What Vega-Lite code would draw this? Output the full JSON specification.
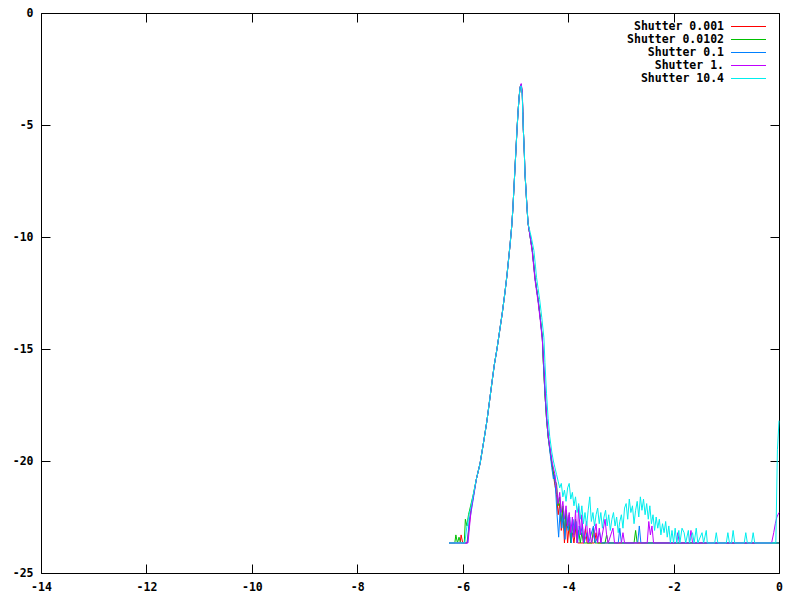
{
  "$schema": "https://vega.github.io/schema/vega-lite/v6.json",
  "autosize": "none",
  "width": 738,
  "height": 560,
  "padding": {"left": 41, "top": 13, "right": 21, "bottom": 27},
  "background": "white",
  "config": {
    "view": {"stroke": "black", "strokeWidth": 1},
    "axis": {
      "domain": false,
      "grid": false,
      "ticks": true,
      "tickColor": "black",
      "tickSize": -9,
      "labelFont": "DejaVu Sans Mono",
      "labelFontWeight": "bold",
      "labelFontSize": 11.5,
      "labelColor": "black",
      "title": null
    }
  },
  "data": {
    "values": [
      {"s":"0.001","x":-6.26,"y":-23.66},{"s":"0.001","x":-6.05,"y":-23.66},{"s":"0.001","x":-6.03,"y":-23.3},{"s":"0.001","x":-6.0,"y":-23.66},{"s":"0.001","x":-5.92,"y":-23.66},{"s":"0.001","x":-5.88,"y":-23.0},{"s":"0.001","x":-5.85,"y":-22.2},{"s":"0.001","x":-5.8,"y":-21.6},
      {"s":"0.001","x":-5.74,"y":-20.8},{"s":"0.001","x":-5.67,"y":-20.1},{"s":"0.001","x":-5.6,"y":-19.1},{"s":"0.001","x":-5.54,"y":-18.2},{"s":"0.001","x":-5.49,"y":-17.3},{"s":"0.001","x":-5.44,"y":-16.4},{"s":"0.001","x":-5.4,"y":-15.7},{"s":"0.001","x":-5.35,"y":-15.0},{"s":"0.001","x":-5.3,"y":-14.2},{"s":"0.001","x":-5.25,"y":-13.4},{"s":"0.001","x":-5.2,"y":-12.5},{"s":"0.001","x":-5.16,"y":-11.7},{"s":"0.001","x":-5.13,"y":-11.0},{"s":"0.001","x":-5.1,"y":-10.3},{"s":"0.001","x":-5.07,"y":-9.5},{"s":"0.001","x":-5.05,"y":-8.8},{"s":"0.001","x":-5.03,"y":-7.9},{"s":"0.001","x":-5.01,"y":-7.0},{"s":"0.001","x":-4.99,"y":-6.1},{"s":"0.001","x":-4.97,"y":-5.2},{"s":"0.001","x":-4.95,"y":-4.4},{"s":"0.001","x":-4.93,"y":-3.75},{"s":"0.001","x":-4.91,"y":-3.3},{"s":"0.001","x":-4.89,"y":-3.2},{"s":"0.001","x":-4.87,"y":-3.6},{"s":"0.001","x":-4.86,"y":-4.4},{"s":"0.001","x":-4.85,"y":-5.2},{"s":"0.001","x":-4.83,"y":-6.3},{"s":"0.001","x":-4.82,"y":-7.1},{"s":"0.001","x":-4.8,"y":-7.9},{"s":"0.001","x":-4.78,"y":-8.7},{"s":"0.001","x":-4.76,"y":-9.4},
      {"s":"0.001","x":-4.72,"y":-10.0},{"s":"0.001","x":-4.68,"y":-10.6},{"s":"0.001","x":-4.65,"y":-11.3},{"s":"0.001","x":-4.63,"y":-11.8},{"s":"0.001","x":-4.6,"y":-12.3},{"s":"0.001","x":-4.57,"y":-12.8},{"s":"0.001","x":-4.53,"y":-13.6},{"s":"0.001","x":-4.49,"y":-14.5},{"s":"0.001","x":-4.47,"y":-15.6},{"s":"0.001","x":-4.44,"y":-17.0},{"s":"0.001","x":-4.41,"y":-18.1},{"s":"0.001","x":-4.38,"y":-18.9},{"s":"0.001","x":-4.34,"y":-19.6},{"s":"0.001","x":-4.31,"y":-20.1},{"s":"0.001","x":-4.28,"y":-20.6},
      {"s":"0.001","x":-4.25,"y":-21.1},{"s":"0.001","x":-4.22,"y":-21.5},{"s":"0.001","x":-4.19,"y":-22.4},{"s":"0.001","x":-4.16,"y":-21.9},{"s":"0.001","x":-4.13,"y":-23.1},{"s":"0.001","x":-4.1,"y":-22.2},{"s":"0.001","x":-4.07,"y":-23.66},{"s":"0.001","x":-4.04,"y":-22.5},{"s":"0.001","x":-4.01,"y":-23.66},{"s":"0.001","x":-3.98,"y":-22.8},{"s":"0.001","x":-3.95,"y":-23.66},{"s":"0.001","x":-3.92,"y":-23.2},{"s":"0.001","x":-3.89,"y":-23.66},{"s":"0.001","x":-3.85,"y":-22.9},{"s":"0.001","x":-3.82,"y":-23.66},{"s":"0.001","x":-3.7,"y":-23.66},{"s":"0.001","x":-3.67,"y":-23.0},{"s":"0.001","x":-3.64,"y":-23.66},{"s":"0.001","x":-3.5,"y":-23.66},{"s":"0.001","x":-3.47,"y":-23.2},{"s":"0.001","x":-3.44,"y":-23.66},{"s":"0.001","x":0,"y":-23.66},

      {"s":"0.0102","x":-6.26,"y":-23.66},{"s":"0.0102","x":-6.15,"y":-23.66},{"s":"0.0102","x":-6.13,"y":-23.3},{"s":"0.0102","x":-6.1,"y":-23.66},{"s":"0.0102","x":-6.07,"y":-23.4},{"s":"0.0102","x":-6.04,"y":-23.66},{"s":"0.0102","x":-5.97,"y":-23.66},{"s":"0.0102","x":-5.95,"y":-22.6},{"s":"0.0102","x":-5.92,"y":-22.9},{"s":"0.0102","x":-5.89,"y":-22.4},{"s":"0.0102","x":-5.85,"y":-22.0},{"s":"0.0102","x":-5.8,"y":-21.5},
      {"s":"0.0102","x":-5.74,"y":-20.8},{"s":"0.0102","x":-5.67,"y":-20.1},{"s":"0.0102","x":-5.6,"y":-19.1},{"s":"0.0102","x":-5.54,"y":-18.2},{"s":"0.0102","x":-5.49,"y":-17.3},{"s":"0.0102","x":-5.44,"y":-16.4},{"s":"0.0102","x":-5.4,"y":-15.7},{"s":"0.0102","x":-5.35,"y":-15.0},{"s":"0.0102","x":-5.3,"y":-14.2},{"s":"0.0102","x":-5.25,"y":-13.4},{"s":"0.0102","x":-5.2,"y":-12.5},{"s":"0.0102","x":-5.16,"y":-11.7},{"s":"0.0102","x":-5.13,"y":-11.0},{"s":"0.0102","x":-5.1,"y":-10.3},{"s":"0.0102","x":-5.07,"y":-9.5},{"s":"0.0102","x":-5.05,"y":-8.8},{"s":"0.0102","x":-5.03,"y":-7.9},{"s":"0.0102","x":-5.01,"y":-7.0},{"s":"0.0102","x":-4.99,"y":-6.1},{"s":"0.0102","x":-4.97,"y":-5.2},{"s":"0.0102","x":-4.95,"y":-4.4},{"s":"0.0102","x":-4.93,"y":-3.75},{"s":"0.0102","x":-4.91,"y":-3.3},{"s":"0.0102","x":-4.89,"y":-3.2},{"s":"0.0102","x":-4.87,"y":-3.6},{"s":"0.0102","x":-4.86,"y":-4.4},{"s":"0.0102","x":-4.85,"y":-5.2},{"s":"0.0102","x":-4.83,"y":-6.3},{"s":"0.0102","x":-4.82,"y":-7.1},{"s":"0.0102","x":-4.8,"y":-7.9},{"s":"0.0102","x":-4.78,"y":-8.7},{"s":"0.0102","x":-4.76,"y":-9.4},
      {"s":"0.0102","x":-4.72,"y":-10.0},{"s":"0.0102","x":-4.68,"y":-10.6},{"s":"0.0102","x":-4.65,"y":-11.3},{"s":"0.0102","x":-4.63,"y":-11.8},{"s":"0.0102","x":-4.6,"y":-12.3},{"s":"0.0102","x":-4.57,"y":-12.8},{"s":"0.0102","x":-4.53,"y":-13.6},{"s":"0.0102","x":-4.49,"y":-14.5},{"s":"0.0102","x":-4.47,"y":-15.6},{"s":"0.0102","x":-4.44,"y":-17.0},{"s":"0.0102","x":-4.41,"y":-18.1},{"s":"0.0102","x":-4.38,"y":-18.9},{"s":"0.0102","x":-4.34,"y":-19.6},{"s":"0.0102","x":-4.31,"y":-20.1},{"s":"0.0102","x":-4.28,"y":-20.5},
      {"s":"0.0102","x":-4.25,"y":-20.9},{"s":"0.0102","x":-4.22,"y":-21.0},{"s":"0.0102","x":-4.19,"y":-22.0},{"s":"0.0102","x":-4.16,"y":-21.6},{"s":"0.0102","x":-4.13,"y":-22.7},{"s":"0.0102","x":-4.1,"y":-22.0},{"s":"0.0102","x":-4.07,"y":-23.1},{"s":"0.0102","x":-4.04,"y":-22.2},{"s":"0.0102","x":-4.01,"y":-23.0},{"s":"0.0102","x":-3.98,"y":-22.4},{"s":"0.0102","x":-3.95,"y":-23.66},{"s":"0.0102","x":-3.92,"y":-22.9},{"s":"0.0102","x":-3.89,"y":-23.3},{"s":"0.0102","x":-3.86,"y":-22.6},{"s":"0.0102","x":-3.83,"y":-23.66},{"s":"0.0102","x":-3.8,"y":-23.1},{"s":"0.0102","x":-3.77,"y":-23.66},{"s":"0.0102","x":-3.74,"y":-23.2},{"s":"0.0102","x":-3.71,"y":-23.66},{"s":"0.0102","x":-3.55,"y":-23.66},{"s":"0.0102","x":-3.52,"y":-23.0},{"s":"0.0102","x":-3.49,"y":-23.66},{"s":"0.0102","x":-3.3,"y":-23.66},{"s":"0.0102","x":-3.27,"y":-23.3},{"s":"0.0102","x":-3.24,"y":-23.66},{"s":"0.0102","x":-2.75,"y":-23.66},{"s":"0.0102","x":-2.72,"y":-23.1},{"s":"0.0102","x":-2.69,"y":-23.66},{"s":"0.0102","x":0,"y":-23.66},

      {"s":"0.1","x":-6.26,"y":-23.66},{"s":"0.1","x":-5.91,"y":-23.66},{"s":"0.1","x":-5.88,"y":-22.7},{"s":"0.1","x":-5.85,"y":-22.4},{"s":"0.1","x":-5.8,"y":-21.7},
      {"s":"0.1","x":-5.74,"y":-20.8},{"s":"0.1","x":-5.67,"y":-20.1},{"s":"0.1","x":-5.6,"y":-19.1},{"s":"0.1","x":-5.54,"y":-18.2},{"s":"0.1","x":-5.49,"y":-17.3},{"s":"0.1","x":-5.44,"y":-16.4},{"s":"0.1","x":-5.4,"y":-15.7},{"s":"0.1","x":-5.35,"y":-15.0},{"s":"0.1","x":-5.3,"y":-14.2},{"s":"0.1","x":-5.25,"y":-13.4},{"s":"0.1","x":-5.2,"y":-12.5},{"s":"0.1","x":-5.16,"y":-11.7},{"s":"0.1","x":-5.13,"y":-11.0},{"s":"0.1","x":-5.1,"y":-10.3},{"s":"0.1","x":-5.07,"y":-9.5},{"s":"0.1","x":-5.05,"y":-8.8},{"s":"0.1","x":-5.03,"y":-7.9},{"s":"0.1","x":-5.01,"y":-7.0},{"s":"0.1","x":-4.99,"y":-6.1},{"s":"0.1","x":-4.97,"y":-5.2},{"s":"0.1","x":-4.95,"y":-4.4},{"s":"0.1","x":-4.93,"y":-3.75},{"s":"0.1","x":-4.91,"y":-3.3},{"s":"0.1","x":-4.89,"y":-3.2},{"s":"0.1","x":-4.87,"y":-3.6},{"s":"0.1","x":-4.86,"y":-4.4},{"s":"0.1","x":-4.85,"y":-5.2},{"s":"0.1","x":-4.83,"y":-6.3},{"s":"0.1","x":-4.82,"y":-7.1},{"s":"0.1","x":-4.8,"y":-7.9},{"s":"0.1","x":-4.78,"y":-8.7},{"s":"0.1","x":-4.76,"y":-9.4},
      {"s":"0.1","x":-4.72,"y":-10.0},{"s":"0.1","x":-4.68,"y":-10.6},{"s":"0.1","x":-4.65,"y":-11.3},{"s":"0.1","x":-4.63,"y":-11.8},{"s":"0.1","x":-4.6,"y":-12.3},{"s":"0.1","x":-4.57,"y":-12.8},{"s":"0.1","x":-4.53,"y":-13.6},{"s":"0.1","x":-4.49,"y":-14.5},{"s":"0.1","x":-4.47,"y":-15.6},{"s":"0.1","x":-4.44,"y":-17.0},{"s":"0.1","x":-4.41,"y":-18.1},{"s":"0.1","x":-4.38,"y":-18.9},{"s":"0.1","x":-4.34,"y":-19.7},{"s":"0.1","x":-4.31,"y":-20.3},{"s":"0.1","x":-4.28,"y":-20.8},
      {"s":"0.1","x":-4.26,"y":-20.6},{"s":"0.1","x":-4.24,"y":-21.2},{"s":"0.1","x":-4.21,"y":-22.4},{"s":"0.1","x":-4.18,"y":-23.4},{"s":"0.1","x":-4.15,"y":-22.1},{"s":"0.1","x":-4.12,"y":-23.0},{"s":"0.1","x":-4.09,"y":-22.3},{"s":"0.1","x":-4.06,"y":-23.5},{"s":"0.1","x":-4.03,"y":-22.4},{"s":"0.1","x":-4.0,"y":-23.1},{"s":"0.1","x":-3.97,"y":-22.5},{"s":"0.1","x":-3.94,"y":-23.66},{"s":"0.1","x":-3.91,"y":-22.6},{"s":"0.1","x":-3.88,"y":-23.2},{"s":"0.1","x":-3.85,"y":-22.7},{"s":"0.1","x":-3.82,"y":-23.66},{"s":"0.1","x":-3.79,"y":-22.9},{"s":"0.1","x":-3.76,"y":-23.3},{"s":"0.1","x":-3.73,"y":-22.8},{"s":"0.1","x":-3.7,"y":-23.66},{"s":"0.1","x":-3.64,"y":-23.2},{"s":"0.1","x":-3.61,"y":-23.66},{"s":"0.1","x":-3.52,"y":-22.9},{"s":"0.1","x":-3.49,"y":-23.66},{"s":"0.1","x":-3.4,"y":-23.2},{"s":"0.1","x":-3.37,"y":-23.66},{"s":"0.1","x":-3.05,"y":-23.66},{"s":"0.1","x":-3.02,"y":-23.0},{"s":"0.1","x":-2.99,"y":-23.66},{"s":"0.1","x":-2.68,"y":-23.66},{"s":"0.1","x":-2.65,"y":-22.9},{"s":"0.1","x":-2.62,"y":-23.66},{"s":"0.1","x":0,"y":-23.66},

      {"s":"1.","x":-6.26,"y":-23.66},{"s":"1.","x":-5.9,"y":-23.66},{"s":"1.","x":-5.87,"y":-22.9},{"s":"1.","x":-5.84,"y":-22.2},{"s":"1.","x":-5.8,"y":-21.6},
      {"s":"1.","x":-5.74,"y":-20.8},{"s":"1.","x":-5.67,"y":-20.1},{"s":"1.","x":-5.6,"y":-19.1},{"s":"1.","x":-5.54,"y":-18.2},{"s":"1.","x":-5.49,"y":-17.3},{"s":"1.","x":-5.44,"y":-16.4},{"s":"1.","x":-5.4,"y":-15.7},{"s":"1.","x":-5.35,"y":-15.0},{"s":"1.","x":-5.3,"y":-14.2},{"s":"1.","x":-5.25,"y":-13.4},{"s":"1.","x":-5.2,"y":-12.5},{"s":"1.","x":-5.16,"y":-11.7},{"s":"1.","x":-5.13,"y":-11.0},{"s":"1.","x":-5.1,"y":-10.3},{"s":"1.","x":-5.07,"y":-9.5},{"s":"1.","x":-5.05,"y":-8.8},{"s":"1.","x":-5.03,"y":-7.9},{"s":"1.","x":-5.01,"y":-7.0},{"s":"1.","x":-4.99,"y":-6.1},{"s":"1.","x":-4.97,"y":-5.2},{"s":"1.","x":-4.95,"y":-4.4},{"s":"1.","x":-4.93,"y":-3.75},{"s":"1.","x":-4.91,"y":-3.3},{"s":"1.","x":-4.89,"y":-3.15},{"s":"1.","x":-4.87,"y":-3.5},{"s":"1.","x":-4.86,"y":-4.3},{"s":"1.","x":-4.85,"y":-5.2},{"s":"1.","x":-4.83,"y":-6.3},{"s":"1.","x":-4.82,"y":-7.1},{"s":"1.","x":-4.8,"y":-7.9},{"s":"1.","x":-4.78,"y":-8.7},{"s":"1.","x":-4.76,"y":-9.4},
      {"s":"1.","x":-4.72,"y":-10.0},{"s":"1.","x":-4.68,"y":-10.7},{"s":"1.","x":-4.65,"y":-11.4},{"s":"1.","x":-4.63,"y":-11.9},{"s":"1.","x":-4.6,"y":-12.4},{"s":"1.","x":-4.57,"y":-12.9},{"s":"1.","x":-4.53,"y":-13.7},{"s":"1.","x":-4.49,"y":-14.6},{"s":"1.","x":-4.46,"y":-15.7},{"s":"1.","x":-4.43,"y":-17.1},{"s":"1.","x":-4.4,"y":-18.2},{"s":"1.","x":-4.37,"y":-19.0},{"s":"1.","x":-4.33,"y":-19.6},{"s":"1.","x":-4.3,"y":-20.1},{"s":"1.","x":-4.27,"y":-20.4},
      {"s":"1.","x":-4.25,"y":-20.6},{"s":"1.","x":-4.22,"y":-21.2},{"s":"1.","x":-4.19,"y":-21.9},{"s":"1.","x":-4.16,"y":-21.4},{"s":"1.","x":-4.13,"y":-22.3},{"s":"1.","x":-4.1,"y":-21.8},{"s":"1.","x":-4.07,"y":-22.6},{"s":"1.","x":-4.04,"y":-22.0},{"s":"1.","x":-4.01,"y":-22.9},{"s":"1.","x":-3.98,"y":-22.3},{"s":"1.","x":-3.95,"y":-23.2},{"s":"1.","x":-3.92,"y":-22.5},{"s":"1.","x":-3.89,"y":-23.4},{"s":"1.","x":-3.86,"y":-22.2},{"s":"1.","x":-3.83,"y":-23.66},{"s":"1.","x":-3.8,"y":-22.0},{"s":"1.","x":-3.77,"y":-23.3},{"s":"1.","x":-3.74,"y":-22.4},{"s":"1.","x":-3.71,"y":-23.66},{"s":"1.","x":-3.68,"y":-23.1},{"s":"1.","x":-3.65,"y":-22.7},{"s":"1.","x":-3.62,"y":-23.66},{"s":"1.","x":-3.59,"y":-23.0},{"s":"1.","x":-3.56,"y":-23.66},{"s":"1.","x":-3.5,"y":-23.2},{"s":"1.","x":-3.47,"y":-22.8},{"s":"1.","x":-3.44,"y":-23.66},{"s":"1.","x":-3.41,"y":-23.0},{"s":"1.","x":-3.38,"y":-23.66},{"s":"1.","x":-3.3,"y":-22.6},{"s":"1.","x":-3.27,"y":-23.3},{"s":"1.","x":-3.24,"y":-23.66},{"s":"1.","x":-3.15,"y":-23.0},{"s":"1.","x":-3.12,"y":-23.66},{"s":"1.","x":-2.99,"y":-23.66},{"s":"1.","x":-2.96,"y":-23.2},{"s":"1.","x":-2.93,"y":-23.66},{"s":"1.","x":-2.5,"y":-23.66},{"s":"1.","x":-2.47,"y":-22.7},{"s":"1.","x":-2.44,"y":-23.3},{"s":"1.","x":-2.41,"y":-22.9},{"s":"1.","x":-2.38,"y":-23.66},{"s":"1.","x":-1.95,"y":-23.66},{"s":"1.","x":-1.92,"y":-23.2},{"s":"1.","x":-1.89,"y":-23.66},{"s":"1.","x":-1.7,"y":-23.66},{"s":"1.","x":-1.67,"y":-23.1},{"s":"1.","x":-1.64,"y":-23.66},{"s":"1.","x":-0.14,"y":-23.66},{"s":"1.","x":-0.1,"y":-23.2},{"s":"1.","x":-0.07,"y":-22.8},{"s":"1.","x":-0.04,"y":-22.5},{"s":"1.","x":0,"y":-22.3},

      {"s":"10.4","x":-6.26,"y":-23.66},{"s":"10.4","x":-5.96,"y":-23.66},{"s":"10.4","x":-5.92,"y":-22.9},{"s":"10.4","x":-5.88,"y":-22.4},{"s":"10.4","x":-5.84,"y":-22.0},{"s":"10.4","x":-5.8,"y":-21.5},
      {"s":"10.4","x":-5.74,"y":-20.8},{"s":"10.4","x":-5.67,"y":-20.1},{"s":"10.4","x":-5.6,"y":-19.1},{"s":"10.4","x":-5.54,"y":-18.2},{"s":"10.4","x":-5.49,"y":-17.3},{"s":"10.4","x":-5.44,"y":-16.4},{"s":"10.4","x":-5.4,"y":-15.7},{"s":"10.4","x":-5.35,"y":-15.0},{"s":"10.4","x":-5.3,"y":-14.2},{"s":"10.4","x":-5.25,"y":-13.4},{"s":"10.4","x":-5.2,"y":-12.5},{"s":"10.4","x":-5.16,"y":-11.7},{"s":"10.4","x":-5.13,"y":-11.0},{"s":"10.4","x":-5.1,"y":-10.3},{"s":"10.4","x":-5.07,"y":-9.5},{"s":"10.4","x":-5.05,"y":-8.8},{"s":"10.4","x":-5.03,"y":-7.9},{"s":"10.4","x":-5.01,"y":-7.0},{"s":"10.4","x":-4.99,"y":-6.1},{"s":"10.4","x":-4.97,"y":-5.2},{"s":"10.4","x":-4.95,"y":-4.4},{"s":"10.4","x":-4.93,"y":-3.75},{"s":"10.4","x":-4.91,"y":-3.3},{"s":"10.4","x":-4.89,"y":-3.25},{"s":"10.4","x":-4.87,"y":-3.7},{"s":"10.4","x":-4.86,"y":-4.5},{"s":"10.4","x":-4.85,"y":-5.2},{"s":"10.4","x":-4.83,"y":-6.3},{"s":"10.4","x":-4.82,"y":-7.1},{"s":"10.4","x":-4.8,"y":-7.9},{"s":"10.4","x":-4.78,"y":-8.7},{"s":"10.4","x":-4.76,"y":-9.4},
      {"s":"10.4","x":-4.7,"y":-10.0},{"s":"10.4","x":-4.65,"y":-10.6},{"s":"10.4","x":-4.62,"y":-11.3},{"s":"10.4","x":-4.6,"y":-11.8},{"s":"10.4","x":-4.57,"y":-12.3},{"s":"10.4","x":-4.54,"y":-12.8},{"s":"10.4","x":-4.5,"y":-13.6},{"s":"10.4","x":-4.46,"y":-14.5},{"s":"10.4","x":-4.44,"y":-15.6},{"s":"10.4","x":-4.41,"y":-17.0},{"s":"10.4","x":-4.38,"y":-18.1},{"s":"10.4","x":-4.35,"y":-18.9},{"s":"10.4","x":-4.31,"y":-19.6},{"s":"10.4","x":-4.28,"y":-20.0},
      {"s":"10.4","x":-4.25,"y":-20.3},{"s":"10.4","x":-4.22,"y":-20.6},{"s":"10.4","x":-4.19,"y":-20.9},{"s":"10.4","x":-4.16,"y":-21.2},{"s":"10.4","x":-4.13,"y":-21.0},{"s":"10.4","x":-4.1,"y":-21.6},{"s":"10.4","x":-4.07,"y":-21.3},{"s":"10.4","x":-4.04,"y":-21.8},{"s":"10.4","x":-4.01,"y":-21.2},{"s":"10.4","x":-3.98,"y":-21.0},{"s":"10.4","x":-3.95,"y":-21.7},{"s":"10.4","x":-3.92,"y":-21.4},{"s":"10.4","x":-3.89,"y":-22.0},{"s":"10.4","x":-3.86,"y":-21.6},{"s":"10.4","x":-3.83,"y":-22.3},{"s":"10.4","x":-3.8,"y":-21.9},{"s":"10.4","x":-3.77,"y":-22.6},{"s":"10.4","x":-3.74,"y":-22.0},{"s":"10.4","x":-3.71,"y":-22.8},{"s":"10.4","x":-3.68,"y":-22.3},{"s":"10.4","x":-3.65,"y":-22.9},{"s":"10.4","x":-3.62,"y":-22.2},{"s":"10.4","x":-3.59,"y":-21.6},{"s":"10.4","x":-3.56,"y":-22.7},{"s":"10.4","x":-3.53,"y":-22.3},{"s":"10.4","x":-3.5,"y":-22.9},{"s":"10.4","x":-3.47,"y":-22.4},{"s":"10.4","x":-3.44,"y":-22.1},{"s":"10.4","x":-3.41,"y":-22.8},{"s":"10.4","x":-3.38,"y":-22.3},{"s":"10.4","x":-3.35,"y":-23.0},{"s":"10.4","x":-3.32,"y":-22.5},{"s":"10.4","x":-3.29,"y":-22.2},{"s":"10.4","x":-3.26,"y":-22.9},{"s":"10.4","x":-3.23,"y":-22.4},{"s":"10.4","x":-3.2,"y":-23.1},{"s":"10.4","x":-3.17,"y":-22.6},{"s":"10.4","x":-3.14,"y":-22.3},{"s":"10.4","x":-3.11,"y":-22.9},{"s":"10.4","x":-3.08,"y":-22.5},{"s":"10.4","x":-3.05,"y":-23.2},{"s":"10.4","x":-3.02,"y":-22.7},{"s":"10.4","x":-2.99,"y":-22.4},{"s":"10.4","x":-2.96,"y":-23.0},{"s":"10.4","x":-2.93,"y":-22.1},{"s":"10.4","x":-2.9,"y":-21.9},{"s":"10.4","x":-2.87,"y":-22.6},{"s":"10.4","x":-2.84,"y":-21.7},{"s":"10.4","x":-2.81,"y":-22.3},{"s":"10.4","x":-2.78,"y":-22.0},{"s":"10.4","x":-2.75,"y":-22.8},{"s":"10.4","x":-2.72,"y":-22.2},{"s":"10.4","x":-2.69,"y":-21.8},{"s":"10.4","x":-2.66,"y":-22.5},{"s":"10.4","x":-2.63,"y":-21.6},{"s":"10.4","x":-2.6,"y":-22.2},{"s":"10.4","x":-2.57,"y":-21.7},{"s":"10.4","x":-2.54,"y":-22.4},{"s":"10.4","x":-2.51,"y":-21.9},{"s":"10.4","x":-2.48,"y":-22.6},{"s":"10.4","x":-2.45,"y":-22.0},{"s":"10.4","x":-2.42,"y":-22.8},{"s":"10.4","x":-2.39,"y":-22.4},{"s":"10.4","x":-2.36,"y":-23.1},{"s":"10.4","x":-2.33,"y":-22.5},{"s":"10.4","x":-2.3,"y":-23.0},{"s":"10.4","x":-2.27,"y":-22.6},{"s":"10.4","x":-2.24,"y":-23.3},{"s":"10.4","x":-2.21,"y":-22.8},{"s":"10.4","x":-2.18,"y":-23.2},{"s":"10.4","x":-2.15,"y":-22.7},{"s":"10.4","x":-2.12,"y":-23.4},{"s":"10.4","x":-2.09,"y":-22.9},{"s":"10.4","x":-2.06,"y":-23.66},{"s":"10.4","x":-2.03,"y":-23.1},{"s":"10.4","x":-2.0,"y":-23.66},{"s":"10.4","x":-1.97,"y":-23.0},{"s":"10.4","x":-1.94,"y":-23.66},{"s":"10.4","x":-1.9,"y":-23.1},{"s":"10.4","x":-1.88,"y":-23.66},{"s":"10.4","x":-1.84,"y":-23.0},{"s":"10.4","x":-1.8,"y":-23.2},{"s":"10.4","x":-1.77,"y":-23.66},{"s":"10.4","x":-1.72,"y":-23.1},{"s":"10.4","x":-1.7,"y":-23.66},{"s":"10.4","x":-1.64,"y":-23.2},{"s":"10.4","x":-1.61,"y":-23.66},{"s":"10.4","x":-1.57,"y":-23.0},{"s":"10.4","x":-1.54,"y":-23.66},{"s":"10.4","x":-1.46,"y":-23.2},{"s":"10.4","x":-1.43,"y":-23.66},{"s":"10.4","x":-1.38,"y":-23.1},{"s":"10.4","x":-1.36,"y":-23.66},{"s":"10.4","x":-1.22,"y":-23.66},{"s":"10.4","x":-1.19,"y":-23.2},{"s":"10.4","x":-1.16,"y":-23.66},{"s":"10.4","x":-1.0,"y":-23.66},{"s":"10.4","x":-0.97,"y":-23.2},{"s":"10.4","x":-0.94,"y":-23.66},{"s":"10.4","x":-0.9,"y":-23.66},{"s":"10.4","x":-0.87,"y":-23.1},{"s":"10.4","x":-0.84,"y":-23.66},{"s":"10.4","x":-0.66,"y":-23.66},{"s":"10.4","x":-0.63,"y":-23.2},{"s":"10.4","x":-0.6,"y":-23.66},{"s":"10.4","x":-0.52,"y":-23.66},{"s":"10.4","x":-0.49,"y":-23.2},{"s":"10.4","x":-0.46,"y":-23.66},{"s":"10.4","x":-0.06,"y":-23.66},{"s":"10.4","x":-0.03,"y":-19.5},{"s":"10.4","x":0,"y":-18.2}
    ]
  },
  "layer": [
    {
      "mark": {"type": "line", "strokeWidth": 1, "interpolate": "linear"},
      "encoding": {
        "x": {"field": "x", "type": "quantitative",
              "scale": {"domain": [-14, 0], "nice": false, "zero": false},
              "axis": {"orient": "bottom", "values": [-14,-12,-10,-8,-6,-4,-2,0], "labelExpr": "'' + datum.value", "labelPadding": 17, "labelFlush": false}},
        "y": {"field": "y", "type": "quantitative",
              "scale": {"domain": [-25, 0], "nice": false, "zero": false},
              "axis": {"orient": "left", "values": [-25,-20,-15,-10,-5,0], "labelExpr": "'' + datum.value", "labelPadding": 17, "labelFlush": false}},
        "color": {"field": "s", "type": "nominal",
                  "scale": {"domain": ["0.001","0.0102","0.1","1.","10.4"], "range": ["#ff0000","#00c000","#0080ff","#c000ff","#00eeee"]},
                  "legend": {
                    "title": null,
                    "orient": "none",
                    "legendX": 701,
                    "legendY": 7,
                    "symbolType": "M-3,0H3",
                    "symbolSize": 136,
                    "symbolStrokeWidth": 1.2,
                    "symbolFillColor": "transparent",
                    "symbolOpacity": 1,
                    "labelExpr": "'Shutter ' + datum.label",
                    "labelAlign": "right",
                    "labelOffset": -31,
                    "labelFont": "DejaVu Sans Mono",
                    "labelFontWeight": "bold",
                    "labelFontSize": 11.5,
                    "labelColor": "black",
                    "rowPadding": 1,
                    "padding": 0
                  }}
      }
    },
    {
      "mark": {"type": "point", "opacity": 0},
      "encoding": {
        "x": {"field": "x", "type": "quantitative",
              "axis": {"orient": "top", "values": [-14,-12,-10,-8,-6,-4,-2,0], "labels": false}},
        "y": {"field": "y", "type": "quantitative",
              "axis": {"orient": "right", "values": [-25,-20,-15,-10,-5,0], "labels": false}}
      }
    }
  ],
  "resolve": {"axis": {"x": "independent", "y": "independent"}}
}
